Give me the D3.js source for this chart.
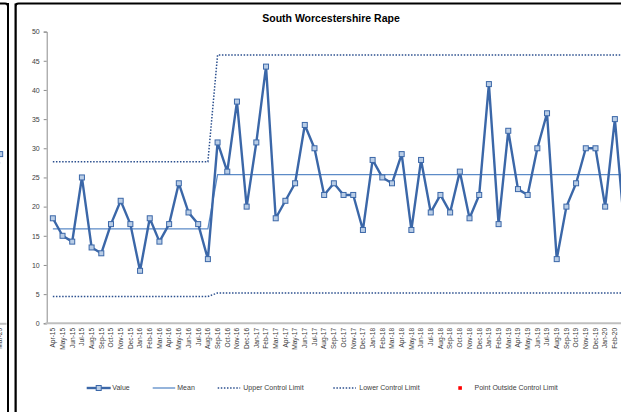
<!DOCTYPE html>
<html>
<head>
<meta charset="utf-8">
<script src="https://cdn.jsdelivr.net/npm/d3@7"></script>
<style>
  body { margin: 0; background: #fff; }
  svg { display: block; font-family: "Liberation Sans", Arial, sans-serif; }
</style>
</head>
<body>
<div id="chart"></div>
<script>

// month categories (Mar-20 sits just past the right edge of the picture)
var months = [
  "Apr-15","May-15","Jun-15","Jul-15","Aug-15","Sep-15","Oct-15","Nov-15","Dec-15","Jan-16","Feb-16","Mar-16",
  "Apr-16","May-16","Jun-16","Jul-16","Aug-16","Sep-16","Oct-16","Nov-16","Dec-16","Jan-17","Feb-17","Mar-17",
  "Apr-17","May-17","Jun-17","Jul-17","Aug-17","Sep-17","Oct-17","Nov-17","Dec-17","Jan-18","Feb-18","Mar-18",
  "Apr-18","May-18","Jun-18","Jul-18","Aug-18","Sep-18","Oct-18","Nov-18","Dec-18","Jan-19","Feb-19","Mar-19",
  "Apr-19","May-19","Jun-19","Jul-19","Aug-19","Sep-19","Oct-19","Nov-19","Dec-19","Jan-20","Feb-20","Mar-20"
];

var values = [
  18, 15, 14, 25, 13, 12, 17, 21, 17, 9, 18, 14,
  17, 24, 19, 17, 11, 31, 26, 38, 20, 31, 44, 18,
  21, 24, 34, 30, 22, 24, 22, 22, 16, 28, 25, 24,
  29, 16, 28, 19, 22, 19, 26, 18, 22, 41, 17, 33,
  23, 22, 30, 36, 11, 20, 24, 30, 30, 20, 35, 16
];

// two process phases, the second one starts at Sep-16
var phaseStarts = ["Apr-15", "Sep-16"];
var phaseMean = [16.2, 25.5];
var phaseUCL = [27.7, 46.0];
var phaseLCL = [4.6, 5.2];

var yTicks = [0, 5, 10, 15, 20, 25, 30, 35, 40, 45, 50];

var legendItems = ["Value", "Mean", "Upper Control Limit", "Lower Control Limit", "Point Outside Control Limit"];

// the neighbouring chart's last month shows at the far left
var neighbourMonths = ["Feb-20", "Mar-20"];
var neighbourValues = [27, 29];
var neighbourMean = [27.5, 27.5];


var svgWidth = 621;
var svgHeight = 412;

var plot = { left: 48, right: 629.4, top: 31.6, bottom: 323.3 };

var svg = d3.select("#chart")
  .append("svg")
  .attr("width", svgWidth)
  .attr("height", svgHeight);

var blue = "#3b67a8";
var meanBlue = "#5c8bc7";
var limitBlue = "#2b4f8e";

// chart frames
svg.append("rect")
  .attr("x", -40).attr("y", 3.5)
  .attr("width", 48).attr("height", 430)
  .attr("rx", 3)
  .attr("fill", "none").attr("stroke", "#000").attr("stroke-width", 2);

svg.append("rect")
  .attr("x", 15.5).attr("y", 3.5)
  .attr("width", 660).attr("height", 430)
  .attr("rx", 3)
  .attr("fill", "#fff").attr("stroke", "#000").attr("stroke-width", 2);

// scales
var x = d3.scaleBand()
  .domain(months)
  .range([plot.left, plot.right]);

var cx = d => x(d) + x.bandwidth() / 2;

var y = d3.scaleLinear()
  .domain([0, 50])
  .range([plot.bottom, plot.top]);

function phaseOf(i) {
  var p = 0;
  phaseStarts.forEach(function(s, k) {
    if (i >= months.indexOf(s)) p = k;
  });
  return p;
}

var rows = months.map(function(m, i) {
  var p = phaseOf(i);
  return { month: m, value: values[i], mean: phaseMean[p], ucl: phaseUCL[p], lcl: phaseLCL[p] };
});

// y axis
var yAxis = svg.append("g")
  .attr("transform", `translate(${plot.left - 1.3},0)`)
  .call(d3.axisLeft(y).tickValues(yTicks).tickSize(3).tickPadding(4));

yAxis.select(".domain").attr("stroke", "#8c8c8c");
yAxis.selectAll(".tick line").attr("stroke", "#8c8c8c");
yAxis.selectAll("text")
  .attr("fill", "#404040")
  .style("font-size", "7px");

// x axis
var xAxis = svg.append("g")
  .attr("transform", `translate(0,${plot.bottom})`)
  .call(d3.axisBottom(x).tickSize(0).tickPadding(0));

xAxis.select(".domain")
  .attr("stroke", "#bfbfbf")
  .attr("stroke-width", 2)
  .attr("d", `M${plot.left - 2.5},0H${plot.right}`);

xAxis.selectAll("text")
  .attr("fill", "#404040")
  .style("font-size", "6.6px")
  .attr("text-anchor", "end")
  .attr("transform", "rotate(-90)")
  .attr("x", -4.5)
  .attr("y", 0)
  .attr("dy", "0.35em");

// lines
var lineOf = key => d3.line()
  .x(d => cx(d.month))
  .y(d => y(d[key]));

svg.append("path")
  .datum(rows)
  .attr("d", lineOf("ucl"))
  .attr("fill", "none")
  .attr("stroke", limitBlue)
  .attr("stroke-width", 1.5)
  .attr("stroke-dasharray", "1.5 1.6");

svg.append("path")
  .datum(rows)
  .attr("d", lineOf("lcl"))
  .attr("fill", "none")
  .attr("stroke", limitBlue)
  .attr("stroke-width", 1.5)
  .attr("stroke-dasharray", "1.5 1.6");

svg.append("path")
  .datum(rows)
  .attr("d", lineOf("mean"))
  .attr("fill", "none")
  .attr("stroke", meanBlue)
  .attr("stroke-width", 1.3);

svg.append("path")
  .datum(rows)
  .attr("d", lineOf("value"))
  .attr("fill", "none")
  .attr("stroke", blue)
  .attr("stroke-width", 2.4)
  .attr("stroke-linejoin", "round");

svg.selectAll(".marker")
  .data(rows)
  .enter()
  .append("rect")
  .attr("class", "marker")
  .attr("x", d => cx(d.month) - 2.5)
  .attr("y", d => y(d.value) - 2.5)
  .attr("width", 5)
  .attr("height", 5)
  .attr("fill", "#b9cde6")
  .attr("stroke", blue)
  .attr("stroke-width", 1);

// title
svg.append("text")
  .attr("x", 331)
  .attr("y", 22)
  .attr("text-anchor", "middle")
  .attr("font-weight", "bold")
  .attr("fill", "#000")
  .style("font-size", "10.5px")
  .text("South Worcestershire Rape");

// legend
var legendX = [86.7, 152.7, 217.7, 333.3, 457.5];
var legendY = 388;

var legend = svg.selectAll(".legend")
  .data(legendItems)
  .enter()
  .append("g")
  .attr("class", "legend")
  .attr("transform", (d, i) => `translate(${legendX[i]},${legendY})`);

legend.each(function(d, i) {
  var g = d3.select(this);
  if (i === 0) {
    g.append("line").attr("x1", 0).attr("x2", 24)
      .attr("stroke", blue).attr("stroke-width", 2.4);
    g.append("rect").attr("x", 9.5).attr("y", -2.5).attr("width", 5).attr("height", 5)
      .attr("fill", "#b9cde6").attr("stroke", blue).attr("stroke-width", 1);
  } else if (i === 1) {
    g.append("line").attr("x1", 0).attr("x2", 22.5)
      .attr("stroke", meanBlue).attr("stroke-width", 1.3);
  } else if (i < 4) {
    g.append("line").attr("x1", 0).attr("x2", 22.5)
      .attr("stroke", limitBlue).attr("stroke-width", 1.5)
      .attr("stroke-dasharray", "1.5 1.6");
  } else {
    g.append("rect").attr("x", 0.8).attr("y", -1.8).attr("width", 3.6).attr("height", 3.6)
      .attr("fill", "#ff0000");
  }
  var tx = [25.6, 24.6, 25.6, 26, 17][i];
  g.append("text")
    .attr("x", tx)
    .attr("y", 0)
    .attr("dy", "0.35em")
    .attr("fill", "#404040")
    .style("font-size", "7px")
    .text(d);
});

// neighbouring chart, only its last column is visible
var xn = d3.scaleBand()
  .domain(neighbourMonths)
  .range([-17.3, 6]);
var cxn = d => xn(d) + xn.bandwidth() / 2;

var nRows = neighbourMonths.map((m, i) => ({ month: m, value: neighbourValues[i], mean: neighbourMean[i] }));

svg.append("path")
  .datum(nRows)
  .attr("d", d3.line().x(d => cxn(d.month)).y(d => y(d.mean)))
  .attr("fill", "none").attr("stroke", meanBlue).attr("stroke-width", 1.3);

svg.append("path")
  .datum(nRows)
  .attr("d", d3.line().x(d => cxn(d.month)).y(d => y(d.value)))
  .attr("fill", "none").attr("stroke", blue).attr("stroke-width", 2.4);

svg.selectAll(".nmarker")
  .data(nRows)
  .enter()
  .append("rect")
  .attr("x", d => cxn(d.month) - 2.5)
  .attr("y", d => y(d.value) - 2.5)
  .attr("width", 5).attr("height", 5)
  .attr("fill", "#b9cde6").attr("stroke", blue).attr("stroke-width", 1);

var nAxis = svg.append("g")
  .attr("transform", `translate(0,${plot.bottom})`)
  .call(d3.axisBottom(xn).tickSize(0).tickPadding(0));

nAxis.select(".domain")
  .attr("stroke", "#bfbfbf")
  .attr("stroke-width", 2);

nAxis.selectAll("text")
  .attr("fill", "#404040")
  .style("font-size", "6.6px")
  .attr("text-anchor", "end")
  .attr("transform", "rotate(-90)")
  .attr("x", -4.5)
  .attr("y", 0)
  .attr("dy", "0.35em");

// keep the neighbour drawing inside its own frame
svg.append("rect")
  .attr("x", 8).attr("y", 0)
  .attr("width", 7).attr("height", svgHeight)
  .attr("fill", "#fff");
svg.append("line")
  .attr("x1", 8).attr("x2", 8).attr("y1", 3).attr("y2", svgHeight)
  .attr("stroke", "#000").attr("stroke-width", 2);
svg.append("line")
  .attr("x1", 15.5).attr("x2", 15.5).attr("y1", 3.5).attr("y2", svgHeight)
  .attr("stroke", "#000").attr("stroke-width", 2);

</script>
</body>
</html>
